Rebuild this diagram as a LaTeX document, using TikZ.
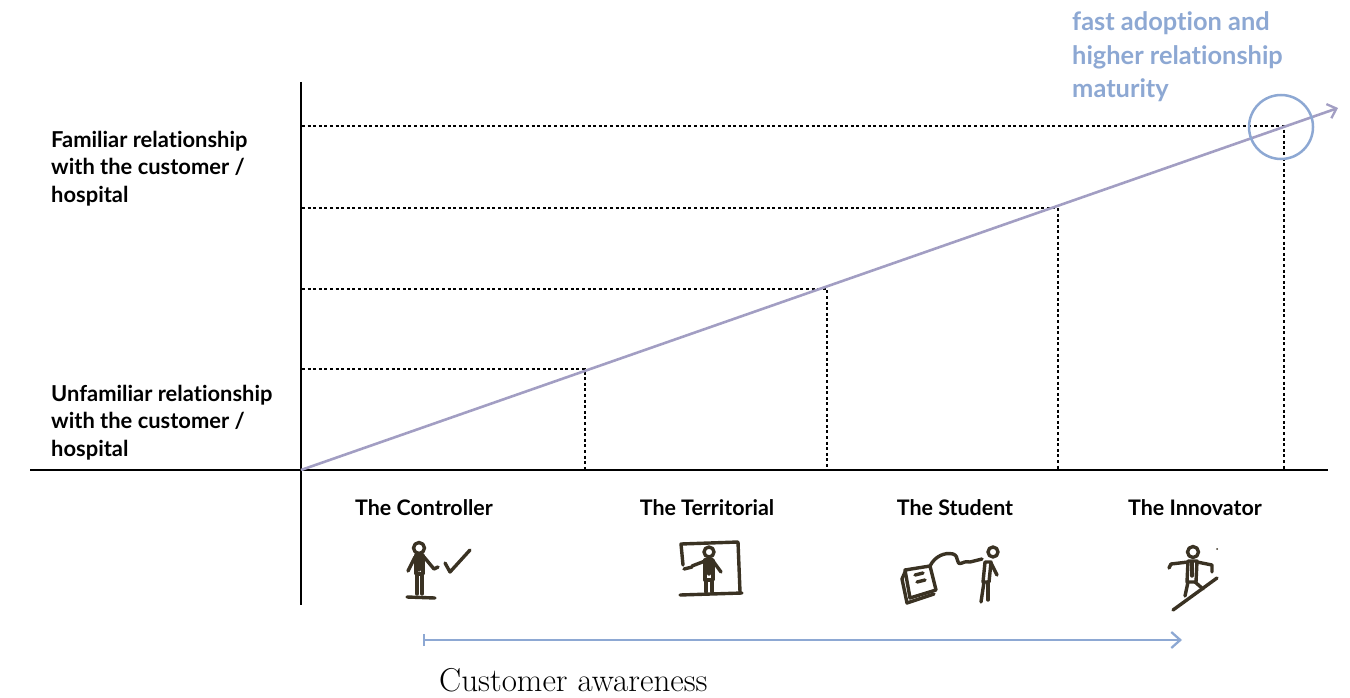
\documentclass[tikz,border=0pt]{standalone}
\usepackage{fontspec}
\setsansfont{Lato}[Ligatures=NoCommon]
\usetikzlibrary{arrows.meta}
\definecolor{axisblue}{HTML}{8DA8D3}
\definecolor{trendline}{HTML}{A29EC3}
\definecolor{inkc}{HTML}{3A3223}
\tikzset{
  axisline/.style={draw=black, line width=2.6bp},
  guide/.style={draw=black, line width=2.7bp, dash pattern=on 3bp off 2.6bp},
  sidelabel/.style={font=\sffamily\bfseries\fontsize{22}{27.5}\selectfont, align=left, anchor=base west, inner sep=0pt},
  typelabel/.style={font=\sffamily\bfseries\fontsize{21.5}{24}\selectfont, anchor=base, inner sep=0pt},
  goallabel/.style={font=\sffamily\bfseries\fontsize{25.5}{34}\selectfont, text=axisblue, align=left, anchor=base west, inner sep=0pt},
  sketch/.style={draw=inkc, line width=3.4bp, line cap=round, line join=round},
}
\begin{document}
\begin{tikzpicture}[x=1bp, y=-1bp]
\useasboundingbox (0,0) rectangle (1350,697);

% axes
\coordinate (origin) at (301,470);
\coordinate (ytop) at (301,82);
\coordinate (ybot) at (301,605);
\coordinate (xleft) at (30,470);
\coordinate (xright) at (1328,470);
\draw[axisline] (ytop) -- (ybot);
\draw[axisline] (xleft) -- (xright);

% stage points on the trend line and their guides
\coordinate (s1) at (585,369);
\coordinate (s2) at (827,289);
\coordinate (s3) at (1058,208);
\coordinate (s4) at (1284,126);
\foreach \p/\y in {s1/369, s2/289, s3/208, s4/126}{
  \coordinate (\p y) at (302,\y);
  \coordinate (\p x) at (\p |- origin);
  \draw[guide] (\p y) -- (\p) -- (\p x);
}

% trend line
\coordinate (trendend) at (1338,108);
\draw[draw=trendline, line width=2.6bp, -{Straight Barb[length=8bp, width=15bp, line width=2.3bp]}] (origin) -- (trendend);

% highlight circle
\node (goal) [draw=axisblue, line width=2.5bp, circle, minimum size=64bp, inner sep=0pt] at (1281,127) {};

% vertical axis labels (anchored on the baseline of the last line)
\node (familiar) [sidelabel] at (51,202) {Familiar relationship\\with the customer /\\hospital};
\node (unfamiliar) [sidelabel] at (51,456) {Unfamiliar relationship\\with the customer /\\hospital};

% goal text
\node (goaltext) [goallabel] at (1072,98) {fast adoption and\\higher relationship\\maturity};

% customer types
\node (controller) [typelabel] at (424,515) {The Controller};
\node (territorial) [typelabel] at (707,515) {The Territorial};
\node (student) [typelabel] at (955,515) {The Student};
\node (innovator) [typelabel] at (1195,515) {The Innovator};

% controller icon
\begin{scope}[sketch]
  \draw (419,548) circle (5.5);
  \draw (416,555) -- (416,574) -- (423,574) -- (423,555) -- cycle;
  \draw (419,555) -- (419,570);
  \draw (415,557) -- (408,571);
  \draw (424,557) -- (434,569) -- (438,567);
  \draw (417,574) -- (417,594);
  \draw (422,574) -- (422,594);
  \draw (407,597) -- (435,598);
  \draw (445,563) -- (450,572) -- (470,550);
\end{scope}

% territorial icon
\begin{scope}[sketch]
  \draw (683,565) -- (681,544) -- (738,542) -- (740,592);
  \draw (680,595) -- (742,593);
  \draw (709,552) circle (5);
  \draw (705,560) -- (705,580) -- (713,580) -- (713,560) -- cycle;
  \draw (709,561) -- (709,574);
  \draw (705,561) -- (692,566);
  \draw (684,569) -- (692,567);
  \draw (713,561) -- (721,572);
  \draw (706,580) -- (706,592);
  \draw (712,580) -- (712,592);
\end{scope}

% student icon
\begin{scope}[sketch]
  \draw (905,570) -- (930,566) -- (936,590) -- (910,598) -- cycle;
  \draw (905,572) -- (902,579) -- (907,603) -- (934,594);
  \draw (915,575) -- (923,573);
  \draw (917,582) -- (925,580);
  \draw (930,566) .. controls (935,556) and (945,552) .. (953,554)
        .. controls (960,556) and (955,566) .. (962,563)
        .. controls (966,561) and (968,562) .. (970,562) -- (982,559);
  \draw (993,552) circle (5);
  \draw (985,562) -- (983,582) -- (989,582) -- (991,562) -- cycle;
  \draw (984,582) -- (981,602);
  \draw (988,582) -- (988,600);
  \draw (991,563) -- (997,575);
\end{scope}

% innovator icon
\begin{scope}[sketch]
  \draw (1193,552) circle (5.5);
  \draw (1188,561) -- (1187,582) -- (1196,582) -- (1197,561) -- cycle;
  \draw (1192,562) -- (1192,576);
  \draw (1188,562) -- (1171,564) -- (1169,568);
  \draw (1197,562) -- (1212,565) -- (1212,572);
  \draw (1188,582) -- (1185,596);
  \draw (1195,582) -- (1203,589);
  \draw (1173,610) -- (1217,578);
  \fill[inkc] (1217,549) circle (1);
\end{scope}

% customer awareness axis
\coordinate (awstart) at (423,640);
\coordinate (awend) at (1182,640);
\draw[draw=axisblue, line width=2.6bp, {Bar[width=12bp, line width=2.3bp]}-{Straight Barb[length=9bp, width=16bp, line width=2.3bp]}] (awstart) -- (awend);
\node (awareness) [font=\fontsize{33.2}{38}\selectfont, anchor=base west, inner sep=0pt] at (439,691.5) {Customer awareness};
\end{tikzpicture}
\end{document}
